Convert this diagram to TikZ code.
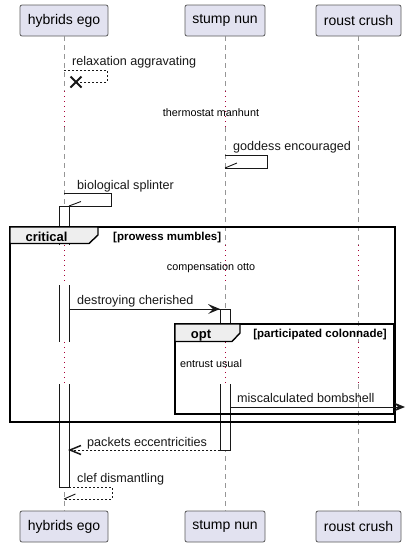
\documentclass[tikz,border=0pt]{standalone}
\usepackage{fontspec}
\setmainfont{Liberation Sans}
\usetikzlibrary{calc}
\definecolor{partfill}{RGB}{226,226,240}
\definecolor{partdraw}{RGB}{90,90,90}
\definecolor{lifegray}{RGB}{150,150,150}
\definecolor{delayred}{RGB}{168,0,54}
\definecolor{ink}{RGB}{24,24,24}
\definecolor{tabfill}{RGB}{238,238,238}
\tikzset{
  part/.style={draw=partdraw, fill=partfill, rounded corners=2pt, line width=0.8pt,
    inner sep=0pt, minimum height=31pt, font=\fontsize{14}{16}\selectfont},
  life/.style={draw=lifegray, line width=0.8pt, dash pattern=on 5pt off 4pt},
  delayline/.style={draw=delayred, line width=0.9pt, dash pattern=on 1pt off 4pt},
  msg/.style={draw=ink, line width=0.9pt},
  retmsg/.style={draw=ink, line width=0.9pt, dash pattern=on 2pt off 2pt},
  msgtext/.style={anchor=base west, inner sep=0pt, font=\fontsize{12.6}{15}\selectfont, text=ink},
  delaytext/.style={anchor=base, inner sep=0pt, font=\fontsize{10.8}{13}\selectfont, text=black},
  actbox/.style={fill=white},
  actside/.style={draw=ink, line width=0.9pt},
  framebox/.style={draw=black, line width=1.6pt},
  tabshape/.style={draw=black, fill=tabfill, line width=1.4pt},
  tabtitle/.style={anchor=base, inner sep=0pt, font=\bfseries\fontsize{13}{15}\selectfont},
  guardtext/.style={inner sep=0pt, font=\bfseries\fontsize{11.5}{14}\selectfont},
}
\begin{document}
\begin{tikzpicture}[x=1pt,y=-1pt]
\useasboundingbox (0,0) rectangle (406,547);
% participants
\node[part, minimum width=88pt] (h1) at (64,20.5) {hybrids ego};
\node[part, minimum width=80pt] (s1) at (225,20.5) {stump nun};
\node[part, minimum width=85pt] (r1) at (358.5,20.5) {roust crush};
\node[part, minimum width=88pt] (h2) at (64,526.5) {hybrids ego};
\node[part, minimum width=80pt] (s2) at (225,526.5) {stump nun};
\node[part, minimum width=85pt] (r2) at (358.5,526.5) {roust crush};
% lifelines
\foreach \n/\x in {h/64,s/225,r/358.5}{
  \coordinate (\n a) at (\x,36);
  \coordinate (\n b) at (\x,91);
  \coordinate (\n c) at (\x,127);
  \coordinate (\n d) at (\x,245);
  \coordinate (\n e) at (\x,285);
  \coordinate (\n f) at (\x,342);
  \coordinate (\n g) at (\x,384);
  \coordinate (\n z) at (\x,511);
  \draw[life] (\n a) -- (\n b);
  \draw[delayline] (\n b) -- (\n c);
  \draw[life] (\n c) -- (\n d);
  \draw[delayline] (\n d) -- (\n e);
  \draw[life] (\n e) -- (\n f);
  \draw[delayline] (\n f) -- (\n g);
  \draw[life] (\n g) -- (\n z);
}
% message 1: relaxation aggravating (destroy)
\coordinate (m1a) at (64,70);
\coordinate (m1b) at (107,70);
\coordinate (m1c) at (107,82);
\coordinate (m1x) at (76,82);
\draw[retmsg] (m1a) -- (m1b) -- (m1c) -- (m1x);
\draw[draw=ink, line width=2pt] ($(m1x)+(-5.5,-5.5)$) -- ($(m1x)+(5.5,5.5)$)
  ($(m1x)+(-5.5,5.5)$) -- ($(m1x)+(5.5,-5.5)$);
\node[msgtext] (t1) at (72,65) {relaxation aggravating};
% delay 1
\node[delaytext] (d1) at (211,116) {thermostat manhunt};
% message 2: goddess encouraged
\coordinate (m2a) at (225,155);
\coordinate (m2b) at (267,155);
\coordinate (m2c) at (267,168);
\coordinate (m2d) at (225,168);
\draw[msg] (m2a) -- (m2b) -- (m2c) -- (m2d);
\draw[msg] (m2d) -- ++(12,-5);
\node[msgtext] (t2) at (233,150) {goddess encouraged};
% activation boxes
\fill[actbox] (59,206) rectangle (69,245);
\fill[actbox] (59,285) rectangle (69,342);
\fill[actbox] (59,384) rectangle (69,487);
\draw[actside] (59,245) -- (59,206) -- (69,206) -- (69,245);
\draw[actside] (59,285) -- (59,342) (69,285) -- (69,342);
\draw[actside] (59,384) -- (59,487) -- (69,487) -- (69,384);
\fill[actbox] (220,309) rectangle (230,342);
\fill[actbox] (220,384) rectangle (230,450);
\draw[actside] (220,342) -- (220,309) -- (230,309) -- (230,342);
\draw[actside] (220,384) -- (220,450) -- (230,450) -- (230,384);
% message 3: biological splinter
\coordinate (m3a) at (64,193);
\coordinate (m3b) at (111,193);
\coordinate (m3c) at (111,206);
\coordinate (m3d) at (69,206);
\draw[msg] (m3a) -- (m3b) -- (m3c) -- (m3d);
\draw[msg] (m3d) -- ++(12,-4.5);
\node[msgtext] (t3) at (77,189) {biological splinter};
% critical frame
\coordinate (cf1) at (10,227);
\coordinate (cf2) at (395,422);
\draw[framebox] (cf1) rectangle (cf2);
\draw[tabshape] (10,227) -- (98,227) -- (98,235) -- (89,243.5) -- (10,243.5) -- cycle;
\node[tabtitle] (crit) at (46.5,241) {critical};
\node[guardtext, anchor=base west] (g1) at (113,240) {[prowess mumbles]};
% delay 2
\node[delaytext] (d2) at (211,270) {compensation otto};
% message 4: destroying cherished
\coordinate (m4a) at (69,309);
\coordinate (m4b) at (220,309);
\draw[msg] (m4a) -- (m4b);
\fill[ink] (m4b) -- ++(-12,-5) -- ++(5,5) -- ++(-5,5) -- cycle;
\node[msgtext] (t4) at (77,304) {destroying cherished};
% opt frame
\draw[framebox] (175,324) rectangle (394,414);
\draw[tabshape] (175,324) -- (240,324) -- (240,333) -- (232,341.5) -- (175,341.5) -- cycle;
\node[tabtitle] (optt) at (201,338) {opt};
\node[guardtext, anchor=base east] (g2) at (387,337) {[participated colonnade]};
% delay 3
\node[delaytext] (d3) at (211,367) {entrust usual};
% message 5: miscalculated bombshell
\coordinate (m5a) at (230,407);
\coordinate (m5b) at (405,407);
\draw[msg] (m5a) -- ($(m5b)+(-3,0)$);
\fill[ink] (m5b) -- ++(-11,-4.5) -- ++(4,4.5) -- ++(-4,4.5) -- cycle;
\node[msgtext] (t5) at (237,402) {miscalculated bombshell};
% message 6: packets eccentricities (return)
\coordinate (m6a) at (220,450);
\coordinate (m6b) at (70,450);
\draw[retmsg] (m6a) -- (m6b);
\draw[draw=ink, line width=1.5pt] ($(m6b)+(11,-4.5)$) -- (m6b) -- ($(m6b)+(11,4.5)$);
\node[msgtext] (t6) at (87,446) {packets eccentricities};
% message 7: clef dismantling
\coordinate (m7a) at (69,487);
\coordinate (m7b) at (112,487);
\coordinate (m7c) at (112,499);
\coordinate (m7d) at (64,499);
\draw[retmsg] (m7a) -- (m7b) -- (m7c) -- (m7d);
\draw[msg] (m7d) -- ++(11.5,-5);
\node[msgtext] (t7) at (77,482) {clef dismantling};
\end{tikzpicture}
\end{document}
